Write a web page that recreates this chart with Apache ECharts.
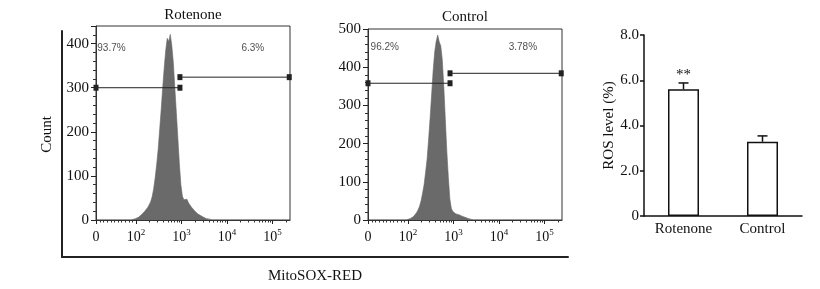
<!DOCTYPE html>
<html>
<head>
<meta charset="utf-8">
<script src="https://cdn.jsdelivr.net/npm/echarts@6/dist/echarts.min.js"></script>
<style>
  html, body { margin: 0; padding: 0; background: #fff; }
  #chart { width: 820px; height: 289px; }
</style>
</head>
<body>
<div id="chart"></div>
<script>
const serif = "'Liberation Serif', 'Times New Roman', serif";
const sans = "'Liberation Sans', Arial, sans-serif";
const ink = '#111';

// histograms, 8-channel bins on a 1024 channel scale
const channelMax = 1024;
const binStep = 8;
const rotenoneStart = 192;
const rotenoneCounts = [
  1, 2, 3, 5, 6, 9, 12, 15, 19, 22, 28, 34, 41, 52, 70, 95, 125, 160, 205, 250,
  300, 345, 385, 412, 405, 421, 396, 358, 300, 244, 186, 128, 80, 54, 46, 43, 47, 39, 35, 29,
  25, 21, 18, 14, 12, 10, 7, 6, 4, 3, 2, 2, 1,
];
const controlStart = 208;
const controlCounts = [
  1, 2, 4, 6, 9, 14, 19, 26, 36, 50, 70, 92, 125, 160, 212, 268, 330, 392, 440, 468,
  484, 466, 456, 420, 350, 265, 180, 112, 55, 30, 22, 18, 16, 15, 14, 12, 10, 9, 7, 5,
  4, 3, 2, 1,
];

// gates: [from channel, to channel, count level]
const rotenoneGates = [[0, 443, 300], [443, 1020, 324]];
const controlGates = [[0, 433, 358], [433, 1020, 384]];
// percent labels: [text, channel, count]
const rotenonePct = [['93.7%', 4, 390], ['6.3%', 765, 390]];
const controlPct = [['96.2%', 11, 451], ['3.78%', 740, 451]];

// display axis in log10 units, "0" sits on the left edge
const xLogMin = 1.121;
const xLogMax = 5.385;
const xMajorTicks = [xLogMin, 2, 3, 4, 5];
const xTickExp = [null, 2, 3, 4, 5];
const xLinearMinor = [16, 19, 23, 28, 33, 40, 48, 58, 70, 84];

// bar panel
const groups = ['Rotenone', 'Control'];
const rosMean = [5.6, 3.28];
const rosErr = [0.28, 0.26];
const rosSig = ['**', ''];

const xMinorTicks = xLinearMinor.map((v) => Math.log10(v));
[2, 3, 4].forEach((d) => {
  for (let k = 2; k <= 9; k++) xMinorTicks.push(d + Math.log10(k));
});
xMinorTicks.push(5 + Math.log10(2));

const histData = (start, counts) => counts.map((c, i) => [start + i * binStep, c]);

function formatDecade(value) {
  const i = xMajorTicks.findIndex((t) => Math.abs(t - value) < 1e-6);
  if (i <= 0) return '{b|0}';
  return '{b|10}{s|' + xTickExp[i] + '}';
}

function histXAxes(gridIndex) {
  return [
    { gridIndex, type: 'value', min: 0, max: channelMax, show: false },
    {
      gridIndex,
      type: 'value',
      position: 'bottom',
      min: xLogMin,
      max: xLogMax,
      axisLine: { show: true, lineStyle: { color: '#333', width: 1 } },
      axisTick: { show: true, customValues: xMajorTicks, length: 4, lineStyle: { color: '#222' } },
      axisLabel: {
        customValues: xMajorTicks,
        formatter: formatDecade,
        margin: 8,
        rich: {
          b: { fontFamily: serif, fontSize: 14, color: ink, lineHeight: 18 },
          s: { fontFamily: serif, fontSize: 9, color: ink, verticalAlign: 'top', lineHeight: 10 },
        },
      },
      splitLine: { show: false },
    },
    {
      gridIndex,
      type: 'value',
      position: 'bottom',
      min: xLogMin,
      max: xLogMax,
      axisLine: { show: false },
      axisTick: { show: true, customValues: xMinorTicks, length: 2.5, lineStyle: { color: '#333' } },
      axisLabel: { show: false },
      splitLine: { show: false },
    },
  ];
}

function countAxis(gridIndex, max, showMax) {
  return {
    gridIndex,
    type: 'value',
    min: 0,
    max,
    interval: 100,
    axisLine: { show: true, lineStyle: { color: '#333', width: 1 } },
    axisTick: { show: true, length: 5, lineStyle: { color: '#222' } },
    minorTick: { show: true, splitNumber: 5, length: 3, lineStyle: { color: '#333' } },
    axisLabel: { fontFamily: serif, fontSize: 15, color: ink, margin: 7, showMaxLabel: showMax },
    splitLine: { show: false },
    minorSplitLine: { show: false },
  };
}

function gateSeries(gates, xAxisIndex, yAxisIndex) {
  return gates.map(([from, to, level]) => ({
    type: 'line',
    xAxisIndex,
    yAxisIndex,
    data: [[from, level], [to, level]],
    symbol: 'rect',
    symbolSize: [5, 6],
    clip: false,
    itemStyle: { color: '#222' },
    lineStyle: { color: '#222', width: 1 },
    z: 5,
    silent: true,
  }));
}

function pctSeries(labels, xAxisIndex, yAxisIndex) {
  return {
    type: 'scatter',
    xAxisIndex,
    yAxisIndex,
    symbolSize: 1,
    itemStyle: { color: 'rgba(0,0,0,0)' },
    data: labels.map(([text, ch, count]) => ({ name: text, value: [ch, count] })),
    label: {
      show: true,
      position: 'right',
      distance: 0,
      formatter: (p) => p.name,
      fontFamily: sans,
      fontSize: 10,
      color: '#222',
    },
    silent: true,
  };
}

function histSeries(start, counts, xAxisIndex, yAxisIndex) {
  return {
    type: 'line',
    xAxisIndex,
    yAxisIndex,
    data: histData(start, counts),
    symbol: 'none',
    lineStyle: { color: '#666', width: 0.6 },
    areaStyle: { color: '#6a6a6a', opacity: 1 },
    silent: true,
  };
}

const titleStyle = { fontFamily: serif, fontSize: 15, fontWeight: 'normal', color: ink };
const nameStyle = { fontFamily: serif, fontSize: 15, color: ink };

const chart = echarts.init(document.getElementById('chart'));
chart.setOption({
  animation: false,
  backgroundColor: '#fff',
  title: [
    { text: 'Rotenone', left: 193, top: 8, textAlign: 'center', padding: 0, textStyle: titleStyle },
    { text: 'Control', left: 465, top: 10, textAlign: 'center', padding: 0, textStyle: titleStyle },
  ],
  grid: [
    { left: 96, top: 26, width: 194, height: 194, show: true, borderColor: '#333', borderWidth: 1, backgroundColor: 'transparent' },
    { left: 368, top: 29, width: 194, height: 191, show: true, borderColor: '#333', borderWidth: 1, backgroundColor: 'transparent' },
    { left: 644, top: 35, width: 158, height: 181 },
    { left: 62, top: 31, width: 506, height: 227 },
  ],
  xAxis: [
    ...histXAxes(0),
    ...histXAxes(1),
    {
      gridIndex: 2,
      type: 'category',
      data: groups,
      axisLine: { lineStyle: { color: ink, width: 1.5 } },
      axisTick: { show: false },
      axisLabel: { fontFamily: serif, fontSize: 15, color: ink, margin: 6 },
    },
    {
      gridIndex: 3,
      type: 'value',
      min: 0,
      max: 1,
      axisLine: { lineStyle: { color: '#222', width: 2 } },
      axisTick: { show: false },
      axisLabel: { show: false },
      splitLine: { show: false },
      name: 'MitoSOX-RED',
      nameLocation: 'middle',
      nameGap: 12,
      nameTextStyle: nameStyle,
    },
  ],
  yAxis: [
    countAxis(0, 440, false),
    countAxis(1, 500, true),
    {
      gridIndex: 2,
      type: 'value',
      min: 0,
      max: 8,
      interval: 2,
      axisLine: { show: true, lineStyle: { color: ink, width: 1.5 } },
      axisTick: { show: true, length: 4, lineStyle: { color: ink, width: 1.5 } },
      axisLabel: {
        fontFamily: serif,
        fontSize: 15,
        color: ink,
        margin: 5,
        formatter: (v) => (v === 0 ? '0' : v.toFixed(1)),
      },
      splitLine: { show: false },
      name: 'ROS level (%)',
      nameLocation: 'middle',
      nameGap: 27,
      nameTextStyle: nameStyle,
    },
    {
      gridIndex: 3,
      type: 'value',
      min: 0,
      max: 1,
      axisLine: { lineStyle: { color: '#222', width: 2 } },
      axisTick: { show: false },
      axisLabel: { show: false },
      splitLine: { show: false },
      name: 'Count',
      nameLocation: 'middle',
      nameGap: 7,
      nameTextStyle: { ...nameStyle, padding: [0, 0, 0, 19] },
    },
  ],
  series: [
    histSeries(rotenoneStart, rotenoneCounts, 0, 0),
    ...gateSeries(rotenoneGates, 0, 0),
    pctSeries(rotenonePct, 0, 0),
    histSeries(controlStart, controlCounts, 3, 1),
    ...gateSeries(controlGates, 3, 1),
    pctSeries(controlPct, 3, 1),
    {
      type: 'bar',
      xAxisIndex: 6,
      yAxisIndex: 2,
      data: rosMean,
      barWidth: 31,
      itemStyle: { color: '#fff', borderColor: ink, borderWidth: 1.5 },
      silent: true,
    },
    {
      type: 'custom',
      xAxisIndex: 6,
      yAxisIndex: 2,
      data: rosMean.map((m, i) => [i, m, rosErr[i]]),
      renderItem: (params, api) => {
        const i = api.value(0);
        const mean = api.value(1);
        const err = api.value(2);
        const base = api.coord([i, mean]);
        const top = api.coord([i, mean + err]);
        const stroke = { stroke: ink, lineWidth: 1.5 };
        return {
          type: 'group',
          children: [
            { type: 'line', shape: { x1: base[0], y1: base[1], x2: top[0], y2: top[1] }, style: stroke },
            { type: 'line', shape: { x1: top[0] - 5, y1: top[1], x2: top[0] + 5, y2: top[1] }, style: stroke },
            {
              type: 'text',
              x: top[0],
              y: top[1] - 8,
              style: {
                text: rosSig[params.dataIndex],
                fontFamily: serif,
                fontSize: 15,
                fill: ink,
                align: 'center',
                verticalAlign: 'middle',
              },
            },
          ],
        };
      },
      z: 3,
      silent: true,
    },
  ],
});
</script>
</body>
</html>
